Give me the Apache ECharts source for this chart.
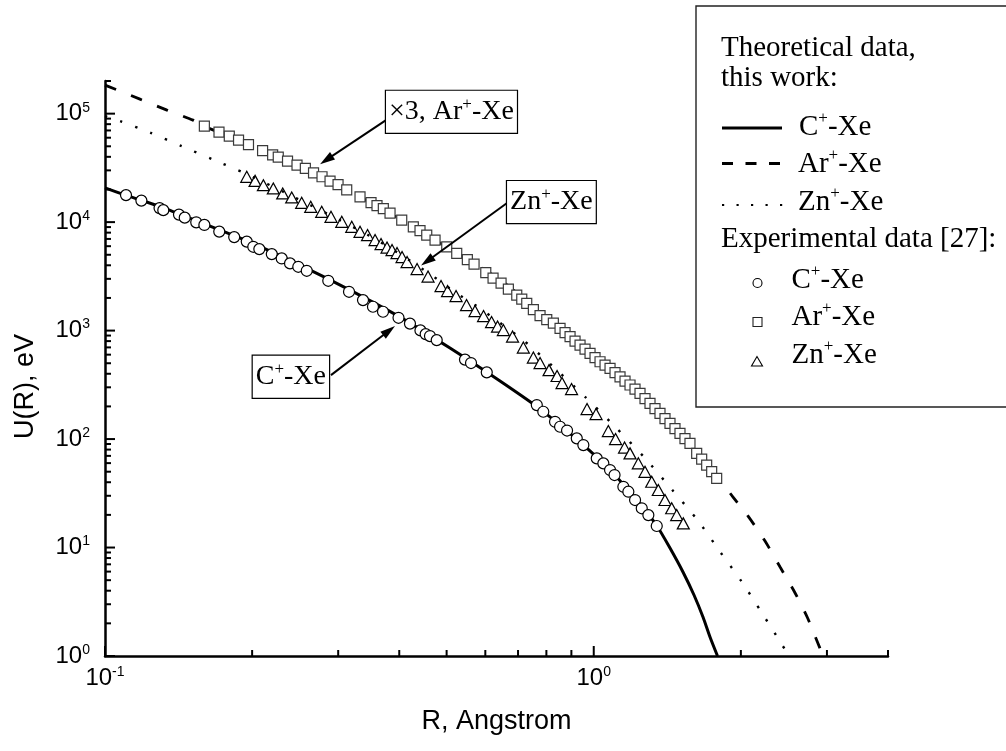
<!DOCTYPE html>
<html>
<head>
<meta charset="utf-8">
<script src="https://cdn.jsdelivr.net/npm/echarts@6/dist/echarts.min.js"></script>
<style>
  html, body { margin: 0; padding: 0; background: #fff; }
  #chart { width: 1006px; height: 751px; }
</style>
</head>
<body>
<div id="chart"></div>
<script>
// ---- axis ranges ----
const R_MIN = 0.1, R_MAX = 4;
const U_MIN = 1, U_MAX = 2e5;

// ---- theoretical curves, this work (R in Angstrom, U in eV) ----
const theoryC_R = [0.1, 0.1109, 0.1296, 0.1564, 0.198, 0.2506, 0.3172, 0.4014, 0.508, 0.643, 0.7765, 0.9375, 1.080, 1.244, 1.347, 1.4322, 1.5225, 1.6036, 1.6731, 1.7293, 1.7915];
const theoryC_U = [20700, 17550, 13900, 10000, 6540, 4015, 2362, 1332, 690, 342.5, 189, 93.8, 51.8, 25.2, 15.8, 9.89, 5.95, 3.65, 2.288, 1.497, 1.0];

const theoryAr_R = [0.1, 0.1179, 0.1339, 0.1514, 0.1594, 0.1876, 0.2101, 0.2471, 0.2887, 0.3324, 0.4046, 0.4735, 0.5531, 0.6585, 0.7646, 0.8807, 1.014, 1.168, 1.346, 1.550, 1.779, 1.9276, 2.069, 2.241, 2.406, 2.582, 2.733, 2.863, 2.946];
const theoryAr_U = [183200, 136100, 107700, 87100, 76700, 57000, 45600, 33500, 23880, 17100, 10430, 6825, 4560, 2723, 1545, 942, 554, 326, 172.6, 91.3, 46.6, 29.2, 19.5, 11.48, 6.61, 3.81, 2.29, 1.375, 1.0];

const theoryZn_R = [0.1, 0.1073, 0.1240, 0.1435, 0.1661, 0.1950, 0.2391, 0.2887, 0.3485, 0.4014, 0.4624, 0.5201, 0.5762, 0.6184, 0.7149, 0.8264, 0.9598, 1.106, 1.274, 1.444, 1.631, 1.813, 2.008, 2.207, 2.425, 2.510];
const theoryZn_U = [94840, 85300, 66530, 50120, 37840, 27700, 17740, 11610, 7430, 5070, 3317, 2264, 1682, 1340, 826, 464, 245.4, 129.8, 66.4, 34.4, 17.9, 9.15, 4.84, 2.51, 1.28, 1.0];

// ---- experimental data [27] ----
const expC_R = [0.1104, 0.1187, 0.1293, 0.1316, 0.1417, 0.1456, 0.1537, 0.1597, 0.1713, 0.1838,
  0.1950, 0.2011, 0.2069, 0.2194, 0.2299, 0.2391, 0.2486, 0.2587, 0.2863, 0.3157,
  0.3372, 0.3534, 0.3705, 0.3986, 0.4207, 0.4420, 0.4530, 0.4623, 0.4772, 0.5452,
  0.5609, 0.6041, 0.7647, 0.7884, 0.8333, 0.8532, 0.8818, 0.9231, 0.9522, 1.0142,
  1.0463, 1.0798, 1.1029, 1.1497, 1.1771, 1.2149, 1.2538, 1.2934, 1.3455];
const expC_U = [17740, 15790, 13460, 12900, 11730, 11000, 9958, 9424, 8176, 7274,
  6612, 5922, 5640, 5072, 4628, 4164, 3873, 3558, 2877, 2279,
  1910, 1658, 1491, 1312, 1160, 1004, 928, 890, 817, 540,
  502, 412, 205.8, 178.5, 144.3, 129.9, 119.8, 101.5, 88.0, 66.4,
  59.7, 51.8, 46.6, 36.3, 32.7, 27.4, 23.0, 19.9, 15.8];

// Ar+-Xe values are shown multiplied by 3
const expAr_R = [0.1597, 0.1711, 0.1796, 0.1876, 0.1966, 0.2101, 0.2203, 0.2262, 0.2363, 0.2471,
  0.2570, 0.2671, 0.2780, 0.2887, 0.2998, 0.3123, 0.3325, 0.3502, 0.3602, 0.3711,
  0.3830, 0.4047, 0.4274, 0.4411, 0.4553, 0.4735, 0.5003, 0.5244, 0.5513, 0.5690,
  0.6013, 0.6223, 0.6462, 0.6688, 0.6958, 0.7124, 0.7293, 0.7524, 0.7765, 0.8014,
  0.8267, 0.8532, 0.8736, 0.8944, 0.9157, 0.9375, 0.9598, 0.9827, 1.0061, 1.0301,
  1.0547, 1.0798, 1.1055, 1.1318, 1.1588, 1.1864, 1.2146, 1.2436, 1.2732, 1.3035,
  1.3345, 1.3663, 1.3989, 1.4322, 1.4663, 1.5012, 1.5370, 1.5736, 1.6241, 1.6628,
  1.7024, 1.7430, 1.7845];
const expAr_U = [76700, 67500, 62000, 57000, 51800, 45600, 41700, 39700, 36500, 33500,
  31300, 28400, 26200, 23900, 22200, 19850, 17100, 15100, 14200, 13300,
  12100, 10430, 9050, 8350, 7590, 6825, 5920, 5150, 4510, 4100,
  3420, 3050, 2740, 2410, 2125, 1950, 1780, 1560, 1375, 1263,
  1172, 1048, 958, 881, 800, 735, 675, 617, 564, 516,
  481, 448, 410, 375, 342, 315, 289, 264, 236, 213,
  191, 172.6, 154.5, 139.5, 125, 112.8, 101.1, 91.3, 73.8, 65.4,
  57.6, 50.2, 43.4];

const expZn_R = [0.1950, 0.2028, 0.2109, 0.2210, 0.2310, 0.2410, 0.2526, 0.2636, 0.2776, 0.2900,
  0.3051, 0.3198, 0.3325, 0.3445, 0.3569, 0.3671, 0.3776, 0.3866, 0.3958, 0.4053,
  0.4150, 0.4350, 0.4581, 0.4870, 0.5022, 0.5227, 0.5492, 0.5716, 0.5950, 0.6179,
  0.6356, 0.6532, 0.6821, 0.7177, 0.7524, 0.7765, 0.8101, 0.8413, 0.8613, 0.9007,
  0.9689, 1.0109, 1.0712, 1.1082, 1.1561, 1.1864, 1.2337, 1.2732, 1.3140, 1.3555,
  1.3989, 1.4437, 1.4781, 1.5248];
const expZn_U = [26160, 24000, 21900, 20450, 18390, 16890, 15060, 13840, 12440, 11190,
  10060, 9052, 8140, 7590, 6825, 6270, 5821, 5521, 5180, 4758,
  4279, 3688, 3146, 2572, 2313, 2080, 1718, 1512, 1360, 1198,
  1089, 1011, 881, 697, 564, 502, 432, 381, 328, 289,
  189, 170, 118.5, 100, 83.5, 73.8, 59.7, 49.9, 40.4, 33.9,
  27.4, 23.0, 19.9, 16.7];

// ---- tick positions ----
const xMajorTicks = [0.1, 1];
const xMinorTicks = [0.2, 0.3, 0.4, 0.5, 0.6, 0.7, 0.8, 0.9, 2, 3, 4];
const yMajorTicks = [1, 10, 100, 1000, 1e4, 1e5];
const yMinorMultipliers = [2, 3, 4, 5, 6, 7, 8, 9];
const yMinorTicks = [];
yMajorTicks.forEach(d => yMinorMultipliers.forEach(m => { if (m * d <= U_MAX) yMinorTicks.push(m * d); }));

// ---- fonts ----
const SANS = "'Liberation Sans', Arial, sans-serif";
const SERIF = "'Liberation Serif', 'Times New Roman', serif";

const zip = (xs, ys) => xs.map((x, i) => [x, ys[i]]);

function tickSeries(values, dir, len) {
  return {
    type: 'custom',
    silent: true,
    clip: false,
    z: 6,
    data: values.map(v => dir === 'x' ? [v, U_MIN] : [R_MIN, v]),
    renderItem: (params, api) => {
      const p = api.coord([api.value(0), api.value(1)]);
      const shape = dir === 'x'
        ? { x1: p[0], y1: p[1], x2: p[0], y2: p[1] - len }
        : { x1: p[0], y1: p[1], x2: p[0] + len, y2: p[1] };
      return { type: 'line', shape, style: { stroke: '#000', lineWidth: 2 } };
    }
  };
}

const powLabel = v => {
  const l = Math.log10(v), e = Math.round(l);
  if (Math.abs(l - e) > 1e-6) return '';
  return '{b|10}{s|' + e + '}';
};
const labelRich = {
  b: { fontFamily: SANS, fontSize: 24, lineHeight: 26, color: '#000' },
  s: { fontFamily: SANS, fontSize: 14, lineHeight: 14, verticalAlign: 'top', color: '#000' }
};

const axisBase = {
  type: 'log',
  logBase: 10,
  axisLine: { show: true, lineStyle: { color: '#000', width: 2.5 } },
  axisTick: { show: false },
  minorTick: { show: false },
  splitLine: { show: false },
  minorSplitLine: { show: false }
};

const option = {
  animation: false,
  backgroundColor: '#fff',
  grid: { left: 105, right: 118, top: 81, bottom: 95 },
  xAxis: Object.assign({}, axisBase, {
    min: R_MIN, max: R_MAX,
    axisLabel: { formatter: powLabel, rich: labelRich, margin: 9, color: '#000' }
  }),
  yAxis: Object.assign({}, axisBase, {
    min: U_MIN, max: U_MAX,
    axisLabel: { formatter: powLabel, rich: labelRich, margin: 15, color: '#000' }
  }),
  series: [
    {
      name: 'C+-Xe theory', type: 'line', data: zip(theoryC_R, theoryC_U),
      symbol: 'none', smooth: 0.25, z: 2,
      lineStyle: { color: '#000', width: 3 }
    },
    {
      name: 'Ar+-Xe theory', type: 'line', data: zip(theoryAr_R, theoryAr_U),
      symbol: 'none', smooth: 0.25, z: 2,
      lineStyle: { color: '#000', width: 2.8, type: [12, 16] }
    },
    {
      name: 'C+-Xe exp', type: 'scatter', data: zip(expC_R, expC_U),
      symbol: 'circle', symbolSize: 11, z: 3,
      itemStyle: { color: '#fff', borderColor: '#000', borderWidth: 1.2, opacity: 1 }
    },
    {
      name: 'Ar+-Xe exp', type: 'scatter', data: zip(expAr_R, expAr_U),
      symbol: 'rect', symbolSize: 10, z: 3,
      itemStyle: { color: '#fff', borderColor: '#3a3a3a', borderWidth: 1.2, opacity: 1 }
    },
    {
      name: 'Zn+-Xe exp', type: 'scatter', data: zip(expZn_R, expZn_U),
      symbol: 'triangle', symbolSize: [12, 11], z: 3,
      itemStyle: { color: '#fff', borderColor: '#000', borderWidth: 1.2, opacity: 1 }
    },
    {
      name: 'Zn+-Xe theory', type: 'line', data: zip(theoryZn_R, theoryZn_U),
      symbol: 'none', smooth: 0.25, z: 4,
      lineStyle: { color: '#000', width: 2.4, type: [2.4, 13.6] }
    },
    tickSeries(xMajorTicks, 'x', 10),
    tickSeries(xMinorTicks, 'x', 6),
    tickSeries(yMajorTicks, 'y', 10),
    tickSeries(yMinorTicks, 'y', 6)
  ]
};

const chart = echarts.init(document.getElementById('chart'));
chart.setOption(option);

// ---- annotations: labelled boxes with arrows, anchored in data space ----
const annoRich = {
  n: { fontFamily: SERIF, fontSize: 28, lineHeight: 32, color: '#000' },
  s: { fontFamily: SERIF, fontSize: 17, lineHeight: 17, verticalAlign: 'top', color: '#000' }
};
const annotations = [
  { text: '{n|×3, Ar}{s|+}{n|-Xe}', box: [0.3758, 1.039e5], align: 'left', tail: [0.3758, 8.71e4], tip: [0.2754, 3.424e4] },
  { text: '{n|Zn}{s|+}{n|-Xe}', box: [0.6647, 1.529e4], align: 'left', tail: [0.6647, 1.50e4], tip: [0.4432, 3973] },
  { text: '{n|C}{s|+}{n|-Xe}', box: [0.2873, 375], align: 'right', tail: [0.2900, 388.9], tip: [0.3921, 1100] }
];

function arrow(from, to) {
  const head = 15, half = 4.5;
  const dx = to[0] - from[0], dy = to[1] - from[1], L = Math.hypot(dx, dy);
  const ux = dx / L, uy = dy / L;
  const bx = to[0] - ux * head, by = to[1] - uy * head;
  return [
    { type: 'line', z: 50, shape: { x1: from[0], y1: from[1], x2: bx + ux * 2, y2: by + uy * 2 },
      style: { stroke: '#000', lineWidth: 2 } },
    { type: 'polygon', z: 50, shape: { points: [to, [bx - uy * half, by + ux * half], [bx + uy * half, by - ux * half]] },
      style: { fill: '#000' } }
  ];
}

const px = d => chart.convertToPixel({ gridIndex: 0 }, d);
const graphics = [];
annotations.forEach(a => {
  const b = px(a.box);
  graphics.push(...arrow(px(a.tail), px(a.tip)));
  graphics.push({
    type: 'text', x: b[0], y: b[1], z: 60,
    style: {
      text: a.text, rich: annoRich, align: a.align, verticalAlign: 'middle',
      backgroundColor: '#fff', borderColor: '#000', borderWidth: 1.2, padding: [5, 3, 5, 3]
    }
  });
});

// ---- axis titles ----
graphics.push({
  type: 'text', x: 496.5, y: 722, z: 60,
  style: { text: 'R, Angstrom', fontFamily: SANS, fontSize: 27, fill: '#000', align: 'center', verticalAlign: 'middle' }
});
graphics.push({
  type: 'text', x: 26, y: 386.5, rotation: Math.PI / 2, z: 60,
  style: { text: 'U(R), eV', fontFamily: SANS, fontSize: 27, fill: '#000', align: 'center', verticalAlign: 'middle' }
});

// ---- legend box ----
const legRich = {
  n: { fontFamily: SERIF, fontSize: 29, lineHeight: 33, color: '#000' },
  s: { fontFamily: SERIF, fontSize: 17, lineHeight: 17, verticalAlign: 'top', color: '#000' }
};
const legText = (x, y, t) => ({
  type: 'text', x, y, z: 71,
  style: { text: t, rich: legRich, align: 'left', verticalAlign: 'middle' }
});
graphics.push({
  type: 'rect', z: 70, shape: { x: 696, y: 6, width: 330, height: 401 },
  style: { fill: '#fff', stroke: '#222', lineWidth: 1.4 }
});
graphics.push(legText(721, 48, '{n|Theoretical data,}'));
graphics.push(legText(721, 78, '{n|this work:}'));
graphics.push({ type: 'line', z: 71, shape: { x1: 722, y1: 128, x2: 782, y2: 128 }, style: { stroke: '#000', lineWidth: 3 } });
graphics.push(legText(799, 127, '{n|C}{s|+}{n|-Xe}'));
graphics.push({ type: 'line', z: 71, shape: { x1: 722, y1: 163.5, x2: 782, y2: 163.5 }, style: { stroke: '#000', lineWidth: 3, lineDash: [11, 12.5] } });
graphics.push(legText(798, 164, '{n|Ar}{s|+}{n|-Xe}'));
graphics.push({ type: 'line', z: 71, shape: { x1: 722, y1: 205, x2: 783, y2: 205 }, style: { stroke: '#000', lineWidth: 2.2, lineDash: [2.2, 12.3] } });
graphics.push(legText(798, 202, '{n|Zn}{s|+}{n|-Xe}'));
graphics.push(legText(721, 239.5, '{n|Experimental data [27]:}'));
graphics.push({ type: 'circle', z: 71, shape: { cx: 757.5, cy: 283, r: 4.5 }, style: { fill: '#fff', stroke: '#000', lineWidth: 1.1 } });
graphics.push(legText(791.5, 280, '{n|C}{s|+}{n|-Xe}'));
graphics.push({ type: 'rect', z: 71, shape: { x: 753, y: 317.5, width: 9, height: 9 }, style: { fill: '#fff', stroke: '#222', lineWidth: 1.1 } });
graphics.push(legText(791.5, 317, '{n|Ar}{s|+}{n|-Xe}'));
graphics.push({ type: 'polygon', z: 71, shape: { points: [[757, 356.5], [751.5, 366], [762.5, 366]] }, style: { fill: '#fff', stroke: '#000', lineWidth: 1.1 } });
graphics.push(legText(791.5, 355, '{n|Zn}{s|+}{n|-Xe}'));

chart.setOption({ graphic: graphics });
</script>
</body>
</html>
